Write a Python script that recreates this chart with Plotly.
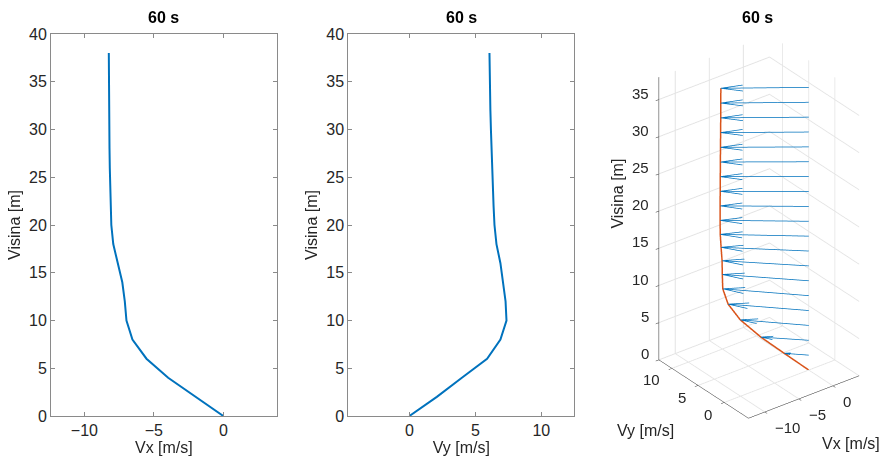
import plotly.graph_objects as go

# Heights [m]
visina = [0, 2, 4, 6, 8, 10, 12, 14, 16, 18, 20, 22, 24, 26, 28, 30, 32, 34, 36, 38]
# Velocity components [m/s]
vx = [0, -2.0, -3.97, -5.53, -6.54, -6.97, -7.09, -7.27, -7.57, -7.92, -8.06,
      -8.11, -8.14, -8.17, -8.19, -8.21, -8.22, -8.23, -8.24, -8.24]
vy = [0, 2.08, 3.98, 5.89, 6.9, 7.36, 7.29, 7.1, 6.9, 6.6, 6.45,
      6.38, 6.32, 6.27, 6.22, 6.18, 6.14, 6.11, 6.09, 6.07]

title_text = "60 s"
vx_ticks = [-10, -5, 0]
vy_ticks = [0, 5, 10]
z_ticks = [0, 5, 10, 15, 20, 25, 30, 35]
h_ticks = [0, 5, 10, 15, 20, 25, 30, 35, 40]

BLUE = "#0072BD"
ORANGE = "#D95319"
FONT = "Liberation Sans, Arial, sans-serif"
TXT = "#262626"
FRAME = "#8a8a8a"

fig = go.Figure()

fig.add_trace(go.Scatter(x=vx, y=visina, mode="lines", line=dict(color=BLUE, width=2),
                         xaxis="x", yaxis="y", showlegend=False))
fig.add_trace(go.Scatter(x=vy, y=visina, mode="lines", line=dict(color=BLUE, width=2),
                         xaxis="x2", yaxis="y2", showlegend=False))

# quiver arrows from (0,0,z) to (vx,vy,z) -- skip zero-length at z=0
sx, sy, sz = [], [], []
hx, hy, hz = [], [], []
HL, HW = 0.25, 0.068
for u, v, z in zip(vx, vy, visina):
    if u == 0 and v == 0:
        continue
    sx += [0, u, None]; sy += [0, v, None]; sz += [z, z, None]
    bx, by = u - HL * u, v - HL * v
    hx += [bx + HW * v, u, bx - HW * v, None]
    hy += [by - HW * u, v, by + HW * u, None]
    hz += [z, z, z, None]

fig.add_trace(go.Scatter3d(x=sx, y=sy, z=sz, mode="lines", line=dict(color=BLUE, width=1.5),
                           scene="scene", showlegend=False, hoverinfo="skip"))
fig.add_trace(go.Scatter3d(x=hx, y=hy, z=hz, mode="lines", line=dict(color=BLUE, width=1.5),
                           scene="scene", showlegend=False, hoverinfo="skip"))
fig.add_trace(go.Scatter3d(x=vx, y=vy, z=visina, mode="lines", line=dict(color=ORANGE, width=3),
                           scene="scene", showlegend=False))

W, H = 881, 461
def px(x): return x / W
def py(y): return 1 - y / H

axis2d = dict(showline=True, linecolor=FRAME, linewidth=1, mirror="ticks", ticks="inside",
              ticklen=4, tickcolor=FRAME, showgrid=False, zeroline=False, automargin=False,
              tickfont=dict(family=FONT, size=16, color=TXT),
              title_font=dict(family=FONT, size=16, color=TXT))

xr1 = [-12.4, 3.84]
xr2 = [-4.63, 12.5]
yr = [0, 40]
zr = [0, 38]

ax3 = dict(showbackground=False, gridcolor="#e3e3e3", showline=True, linecolor=TXT,
           zeroline=False, ticks="outside", ticklen=4, tickcolor=TXT, showticklabels=False,
           title=dict(text=""), showspikes=False)
R = 2.2
S = 0.95 / 1.385
TF = dict(family=FONT, size=15, color=TXT)

# 3D tick labels as flat text anchored at the tick positions (MATLAB style)
scene_ann = []
for t in z_ticks:
    scene_ann.append(dict(x=xr1[0], y=xr2[1], z=t, text=str(t), showarrow=False,
                          xanchor="right", yanchor="middle", xshift=-8, yshift=6, font=TF))
for t in vy_ticks:
    scene_ann.append(dict(x=xr1[0], y=t, z=zr[0], text=str(t), showarrow=False,
                          xanchor="right", yanchor="middle", xshift=-10, yshift=-12, font=TF))
for t in vx_ticks:
    scene_ann.append(dict(x=t, y=xr2[0], z=zr[0], text=str(t).replace("-", "\u2212"),
                          showarrow=False, xanchor="left", yanchor="middle", xshift=8,
                          yshift=-16, font=TF))

LF = dict(family=FONT, size=16, color=TXT)
fig.update_layout(
    width=W, height=H, margin=dict(l=0, r=0, t=0, b=0),
    paper_bgcolor="white", plot_bgcolor="white",
    font=dict(family=FONT, color=TXT),
    xaxis=dict(axis2d, domain=[px(51), px(276.7)], range=xr1, tickvals=vx_ticks,
               title=dict(text="Vx [m/s]", standoff=3), anchor="y"),
    yaxis=dict(axis2d, domain=[py(416), py(34)], range=yr, tickvals=h_ticks,
               title=dict(text="Visina [m]", standoff=4), anchor="x"),
    xaxis2=dict(axis2d, domain=[px(348.3), px(574.3)], range=xr2, tickvals=vy_ticks,
                title=dict(text="Vy [m/s]", standoff=3), anchor="y2"),
    yaxis2=dict(axis2d, domain=[py(416), py(34)], range=yr, tickvals=h_ticks,
                title=dict(text="Visina [m]", standoff=4), anchor="x2"),
    scene=dict(
        domain=dict(x=[0.7233, 1.0], y=[0.0443, 0.9744]),
        xaxis=dict(ax3, range=xr1, tickvals=vx_ticks),
        yaxis=dict(ax3, range=xr2, tickvals=vy_ticks),
        zaxis=dict(ax3, range=zr, tickvals=z_ticks),
        aspectmode="manual",
        aspectratio=dict(x=S * 16.24 / 17.13, y=S * 1.0, z=S * 38 / 17.13),
        camera=dict(projection=dict(type="orthographic"),
                    eye=dict(x=-0.527 * R, y=-0.687 * R, z=0.5 * R),
                    up=dict(x=0, y=0, z=1), center=dict(x=0, y=0, z=0)),
        annotations=scene_ann,
    ),
    annotations=[
        dict(text="<b>" + title_text + "</b>", x=(px(51) + px(276.7)) / 2, y=py(18), xref="paper",
             yref="paper", showarrow=False, font=dict(family=FONT, size=16, color="black"),
             xanchor="center", yanchor="middle"),
        dict(text="<b>" + title_text + "</b>", x=(px(348.3) + px(574.3)) / 2, y=py(18), xref="paper",
             yref="paper", showarrow=False, font=dict(family=FONT, size=16, color="black"),
             xanchor="center", yanchor="middle"),
        dict(text="<b>" + title_text + "</b>", x=px(757.7), y=py(18), xref="paper",
             yref="paper", showarrow=False, font=dict(family=FONT, size=16, color="black"),
             xanchor="center", yanchor="middle"),
        dict(text="Visina [m]", x=px(617.3), y=py(193.3), xref="paper", yref="paper",
             showarrow=False, textangle=-90, font=LF, xanchor="center", yanchor="middle"),
        dict(text="Vy [m/s]", x=px(645), y=py(430), xref="paper", yref="paper",
             showarrow=False, font=LF, xanchor="center", yanchor="middle"),
        dict(text="Vx [m/s]", x=px(851), y=py(443.3), xref="paper", yref="paper",
             showarrow=False, font=LF, xanchor="center", yanchor="middle"),
    ],
)

fig.write_html("out.html", config={"displayModeBar": False},
               post_script="document.body.style.margin='0';")
